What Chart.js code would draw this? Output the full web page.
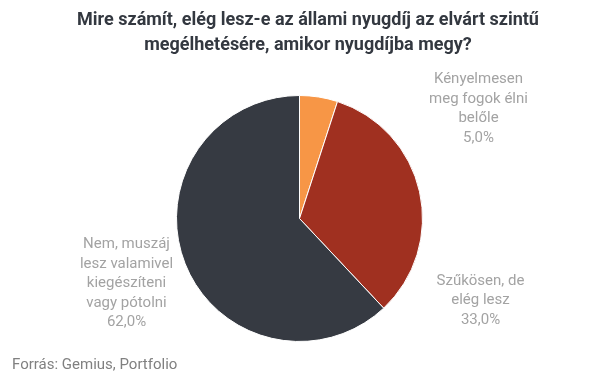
<!DOCTYPE html>
<html>
<head>
<meta charset="utf-8">
<script src="https://cdn.jsdelivr.net/npm/chart.js@4"></script>
<style>
  html, body { margin: 0; padding: 0; background: #fff; }
  #wrap { width: 605px; height: 378px; position: relative; }
</style>
</head>
<body>
<div id="wrap"><canvas id="myChart"></canvas></div>
<script>
const titleLines = ['Mire számít, elég lesz-e az állami nyugdíj az elvárt szintű', 'megélhetésére, amikor nyugdíjba megy?'];
const categories = [
    ['Kényelmesen', 'meg fogok élni', 'belőle'],
    ['Szűkösen, de', 'elég lesz'],
    ['Nem, muszáj', 'lesz valamivel', 'kiegészíteni', 'vagy pótolni']
];
const shares = [5.0, 33.0, 62.0];
const sliceColors = ['#F79646', '#A03020', '#363A42'];
const sourceText = 'Forrás: Gemius, Portfolio';

// label block centres, relative to the pie centre
const labelOffsets = [[179, -110], [181, 82], [-173, 65]];

const fmt = v => v.toFixed(1).replace('.', ',') + '%';

// title, outside labels and source line
const textPlugin = {
    id: 'chartTexts',
    afterDraw(chart) {
        const c = chart.ctx;
        const arcs = chart.getDatasetMeta(0).data;
        c.save();
        c.textBaseline = 'middle';
        c.textAlign = 'center';

        c.font = 'bold 18px Roboto';
        c.fillStyle = '#333840';
        titleLines.forEach((t, k) => c.fillText(t, 308, 20 + k * 25));

        c.font = '15px Roboto';
        c.fillStyle = '#A3A3A3';
        arcs.forEach((arc, i) => {
            const lines = categories[i].concat([fmt(shares[i])]);
            const lh = 19.5;
            const cx = arc.x + labelOffsets[i][0];
            const cy = arc.y + labelOffsets[i][1];
            const y0 = cy - (lines.length - 1) * lh / 2;
            lines.forEach((t, k) => c.fillText(t, cx, y0 + k * lh));
        });

        c.textAlign = 'left';
        c.fillStyle = '#808080';
        c.fillText(sourceText, 12, 365);
        c.restore();
    }
};

const ctx = document.getElementById('myChart').getContext('2d');

const myChart = new Chart(ctx, {
    type: 'pie',
    data: {
        labels: categories,
        datasets: [{
            data: shares,
            backgroundColor: sliceColors,
            borderColor: '#ffffff',
            borderWidth: 1
        }]
    },
    options: {
        responsive: true,
        maintainAspectRatio: false,
        animation: false,
        layout: {
            padding: { top: 95, bottom: 36, left: 53, right: 59 }
        },
        plugins: {
            legend: { display: false },
            tooltip: { enabled: false },
            title: { display: false }
        }
    },
    plugins: [textPlugin]
});
</script>
</body>
</html>
